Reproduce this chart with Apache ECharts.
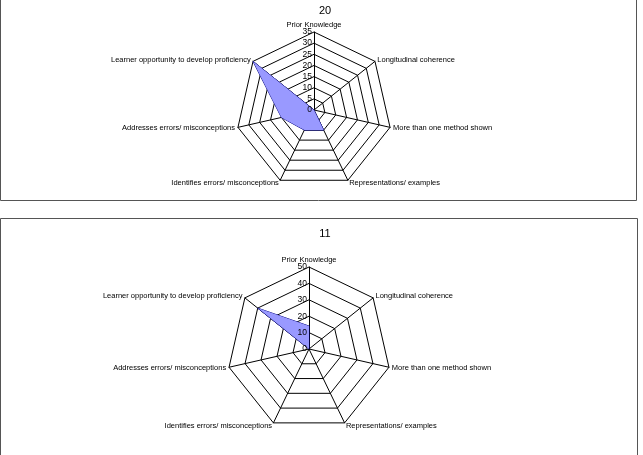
<!DOCTYPE html>
<html>
<head>
<meta charset="utf-8">
<script src="https://cdn.jsdelivr.net/npm/echarts@6/dist/echarts.min.js"></script>
<style>
  html, body { margin: 0; padding: 0; background: #fff; }
  #main { width: 643px; height: 455px; }
</style>
</head>
<body>
<div id="main"></div>
<script>
// categories clockwise from the top, as in the picture
var categories = [
    'Prior Knowledge',
    'Longitudinal coherence',
    'More than one method shown',
    'Representations/ examples',
    'Identifies errors/ misconceptions',
    'Addresses errors/ misconceptions',
    'Learner opportunity to develop proficiency'
]
var titles = ['20', '11']
var values20 = [0, 0, 0, 10, 10, 15, 35]
var values11 = [14, 0, 0, 0, 0, 0, 40]
var axisMax = [35, 50]
var axisStep = [5, 10]

// echarts lays radar axes out counter-clockwise, so flip the order after the first
function ccw(arr) {
    return [arr[0]].concat(arr.slice(1).reverse())
}

var centers = [[314, 110], [309, 349]]
var radii = [78, 82]
var font = 'Liberation Sans, Arial, sans-serif'

var chart = echarts.init(document.getElementById('main'))

function radarOf(i) {
    return {
        center: centers[i],
        radius: radii[i],
        startAngle: 90,
        shape: 'polygon',
        splitNumber: axisMax[i] / axisStep[i],
        nameGap: 3,
        axisName: { color: '#000', fontSize: 7.5, fontFamily: font },
        indicator: ccw(categories).map(function (c) { return { name: c, min: 0, max: axisMax[i] } }),
        axisLine: { lineStyle: { color: '#000', width: 1 } },
        splitLine: { lineStyle: { color: '#000', width: 1 } },
        splitArea: { show: false },
        axisTick: { show: false },
        axisLabel: { show: false }
    }
}

// tick labels only on the top axis, via a polar radius axis laid over the radar
function polarAxis(i) {
    return {
        polarIndex: i,
        z: 10,
        min: 0,
        max: axisMax[i],
        interval: axisStep[i],
        axisLine: { show: false },
        axisTick: { show: false },
        splitLine: { show: false },
        axisLabel: { fontSize: 8.5, color: '#000', fontFamily: font, margin: 2 }
    }
}

var option = {
    animation: false,
    title: [
        { text: titles[0], left: 320, top: 0, textAlign: 'center', textStyle: { fontSize: 11, fontWeight: 'normal', color: '#000', fontFamily: font } },
        { text: titles[1], left: 320, top: 223, textAlign: 'center', textStyle: { fontSize: 11, fontWeight: 'normal', color: '#000', fontFamily: font } }
    ],
    graphic: [
        { type: 'rect', shape: { x: 0.5, y: -2, width: 636, height: 202.5 }, style: { fill: 'none', stroke: '#555', lineWidth: 1 } },
        { type: 'rect', shape: { x: 0.5, y: 218.5, width: 637, height: 245 }, style: { fill: 'none', stroke: '#555', lineWidth: 1 } }
    ],
    radar: [radarOf(0), radarOf(1)],
    polar: [
        { center: centers[0], radius: radii[0] },
        { center: centers[1], radius: radii[1] }
    ],
    angleAxis: [
        { polarIndex: 0, startAngle: 90, show: false, min: 0, max: 360 },
        { polarIndex: 1, startAngle: 90, show: false, min: 0, max: 360 }
    ],
    radiusAxis: [polarAxis(0), polarAxis(1)],
    series: [
        {
            type: 'radar',
            radarIndex: 0,
            symbol: 'none',
            lineStyle: { color: '#000080', width: 1 },
            areaStyle: { color: '#9999ff', opacity: 1 },
            data: [{ value: ccw(values20), name: titles[0] }]
        },
        {
            type: 'radar',
            radarIndex: 1,
            symbol: 'none',
            lineStyle: { color: '#000080', width: 1 },
            areaStyle: { color: '#9999ff', opacity: 1 },
            data: [{ value: ccw(values11), name: titles[1] }]
        }
    ]
}

chart.setOption(option)
</script>
</body>
</html>
